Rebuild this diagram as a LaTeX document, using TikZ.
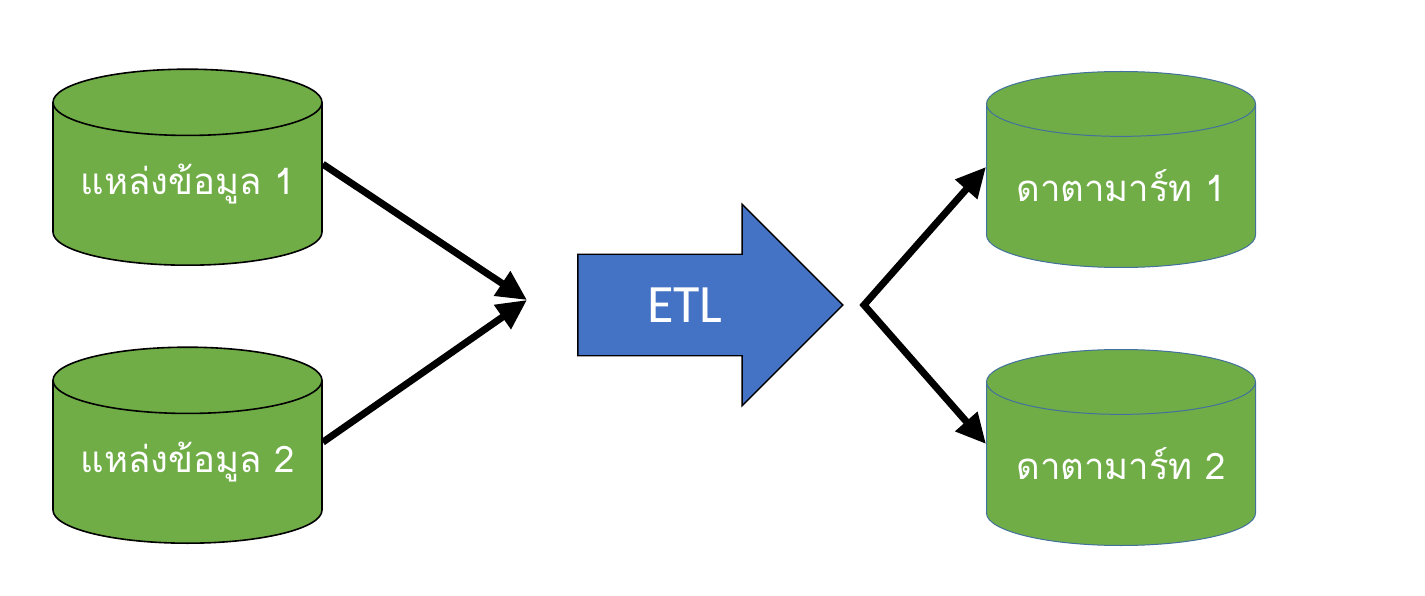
\documentclass[tikz,border=0pt]{standalone}
\usepackage{fontspec}
\setmainfont{Carlito}
\newfontfamily\thaifont[Script=Thai]{Loma}
\usetikzlibrary{positioning, arrows.meta, shapes.geometric, shapes.arrows}
\definecolor{cgreen}{HTML}{70AD47}
\definecolor{cblue}{HTML}{4472C4}
\definecolor{cedge}{HTML}{41719C}

\begin{document}
\begin{tikzpicture}[x=1pt, y=-1pt,
    store/.style={cylinder, shape border rotate=90, aspect=0.31, fill=cgreen,
      minimum width=269pt, minimum height=196pt, inner sep=0pt, anchor=south,
      text=white, font=\thaifont\fontsize{36.5}{42}\selectfont},
    src/.style={store, draw=black, line width=1.6pt},
    mart/.style={store, draw=cedge, line width=1pt},
    flow/.style={-{Triangle[length=30pt, width=28pt]}, line width=7pt},
    etl/.style={single arrow, single arrow tip angle=90, single arrow head extend=50pt,
      minimum height=265pt, text height=35pt, text depth=0pt, inner ysep=32.5pt,
      fill=cblue, draw=black, line width=1.4pt, text=white,
      font=\fontsize{54}{60}\selectfont}]
  \useasboundingbox (0,0) rectangle (1425,596);

  % --- sources ---
  \node[src] (src1) at (187.5,266) {แหล่งข้อมูล 1};
  \node[src] (src2) at (187.5,544) {แหล่งข้อมูล 2};

  % --- ETL ---
  \node[etl] (etl) at (685,305) {ETL};

  % --- data marts ---
  \node[mart] (mart1) at (1121,268) {ดาตามาร์ท 1};
  \node[mart] (mart2) at (1121,546) {ดาตามาร์ท 2};

  \coordinate (merge) at (527,300);
  \coordinate (split) at (864,305);
  \draw[flow] ([yshift=20pt]src1.east) -- (merge);
  \draw[flow] ([yshift=20pt]src2.east) -- (merge);
  \draw[flow, {Triangle[length=30pt, width=28pt]}-{Triangle[length=30pt, width=28pt]}]
    ([yshift=19pt]mart1.west) -- (split) -- ([yshift=20pt]mart2.west);
\end{tikzpicture}
\end{document}
